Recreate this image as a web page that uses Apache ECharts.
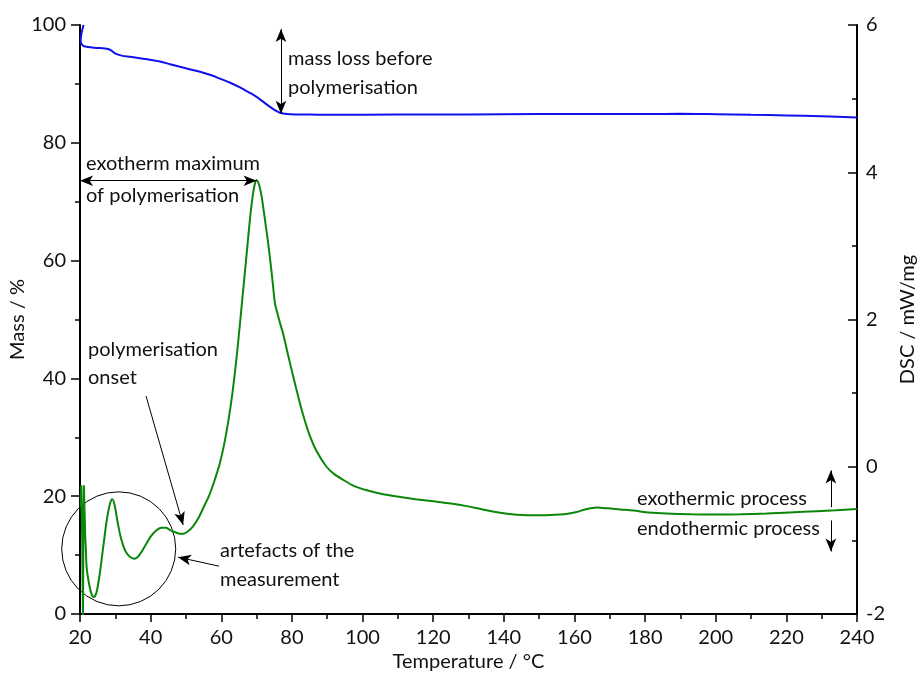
<!DOCTYPE html>
<html>
<head>
<meta charset="utf-8">
<script src="https://cdn.jsdelivr.net/npm/echarts@6/dist/echarts.min.js"></script>
<style>
  html, body { margin: 0; padding: 0; background: #fff; }
  #chart { width: 920px; height: 675px; }
</style>
</head>
<body>
<div id="chart"></div>
<script>
// Thermogravimetry (mass) and DSC heat flow against temperature
const xTicks = { min: 20, max: 240, step: 20 };
const massTicks = { min: 0, max: 100, step: 20 };
const dscTicks = { min: -2, max: 6, step: 2 };

// Mass / % (temperature in °C, mass in %)
const massCurve = [
  [21.0, 100.0], [20.7, 99.3], [20.42, 98.6], [20.2, 97.4], [20.25, 97.0],
  [20.7, 96.6], [21.1, 96.4], [24.0, 96.15], [27.1, 96.0], [28.5, 95.8],
  [29.9, 95.2], [31.8, 94.8], [34.2, 94.6], [37.0, 94.35], [39.8, 94.1],
  [42.65, 93.8], [45.5, 93.35], [48.3, 92.9], [51.0, 92.5], [54.0, 92.05],
  [57.0, 91.5], [59.6, 90.9], [62.5, 90.2], [65.3, 89.4], [67.7, 88.6],
  [70.0, 87.8], [72.0, 86.9], [73.8, 86.1], [75.3, 85.5], [76.6, 85.1],
  [78.0, 84.93], [79.5, 84.85], [85, 84.8], [90, 84.77], [100, 84.78],
  [120, 84.8], [140, 84.85], [160, 84.9], [180, 84.9], [190, 84.92],
  [200, 84.85], [210, 84.75], [220, 84.65], [230, 84.5], [240, 84.3]
];

// DSC / mW/mg — sharp instrument ringing right at the start
const dscStart = [
  [20.2, -0.55], [20.35, -0.25], [20.5, -0.27], [20.6, -0.9], [20.85, -2.05],
  [20.95, -0.9], [21.1, -0.25], [21.25, -0.26], [21.45, -0.9], [21.7, -1.17]
];

// DSC / mW/mg — main heating trace
const dscCurve = [
  [21.7, -1.17], [21.9, -1.38], [22.6, -1.6], [23.2, -1.72], [23.9, -1.77],
  [24.7, -1.7], [25.6, -1.45], [26.6, -1.08], [27.6, -0.72], [28.5, -0.5],
  [29.15, -0.44], [29.8, -0.52], [30.6, -0.74], [31.6, -0.97], [32.8, -1.14],
  [34.0, -1.22], [35.4, -1.25], [36.8, -1.2], [38.5, -1.07], [40.0, -0.95],
  [41.5, -0.87], [43.0, -0.83], [44.3, -0.83], [45.5, -0.86], [47.0, -0.89],
  [48.3, -0.91], [49.3, -0.91], [50.5, -0.88], [52.0, -0.81], [53.5, -0.7],
  [55.0, -0.55], [56.5, -0.4], [58.0, -0.2], [59.5, 0.03], [60.8, 0.3],
  [62.0, 0.62], [63.1, 0.98], [64.1, 1.38], [65.0, 1.8], [65.8, 2.2],
  [66.6, 2.6], [67.4, 3.0], [68.2, 3.4], [68.9, 3.68], [69.5, 3.84],
  [70.0, 3.89], [70.7, 3.83], [71.4, 3.68], [72.3, 3.38], [73.3, 3.03],
  [74.3, 2.62], [75.2, 2.22], [75.7, 2.12], [76.6, 1.96], [77.6, 1.79],
  [79.0, 1.5], [80.4, 1.22], [81.8, 0.95], [83.2, 0.7], [85.0, 0.43],
  [87.0, 0.21], [89.8, 0.0], [92.0, -0.1], [94.6, -0.18], [97.5, -0.26],
  [101.2, -0.32], [105.5, -0.37], [110.6, -0.41], [115, -0.44], [120, -0.47],
  [125, -0.5], [129.5, -0.535], [134, -0.58], [138.9, -0.625], [143, -0.65],
  [146.5, -0.658], [151, -0.66], [155.9, -0.65], [158.5, -0.635], [160.6, -0.615],
  [163, -0.58], [166.3, -0.555], [169.5, -0.565], [172.9, -0.58], [176.7, -0.595],
  [181, -0.62], [186.1, -0.635], [193, -0.645], [200.2, -0.648], [207, -0.645],
  [214.4, -0.635], [221, -0.62], [228.6, -0.603], [234, -0.59], [240, -0.575]
];

const FONT = 'Lato';
const FS = 20;
const INK = '#111';
const BLUE = '#1010f0';
const GREEN = '#0a870a';

const arrowLine = { color: '#000', width: 1, type: 'solid' };
const headSize = [8, 13];

function arrow(from, to, twoHeads) {
  return [
    { coord: from, symbol: twoHeads ? 'arrow' : 'none', symbolSize: headSize },
    { coord: to, symbol: 'arrow', symbolSize: headSize }
  ];
}

const chart = echarts.init(document.getElementById('chart'));

const tickLabel = { color: INK, fontFamily: FONT, fontSize: FS };
const axisName = { color: INK, fontFamily: FONT, fontSize: FS };

chart.setOption({
  animation: false,
  backgroundColor: '#fff',
  grid: {
    left: 80, right: 63, top: 25, bottom: 61,
    containLabel: false, outerBoundsMode: 'none'
  },
  xAxis: {
    type: 'value',
    min: xTicks.min, max: xTicks.max, interval: xTicks.step,
    name: 'Temperature / °C', nameLocation: 'middle', nameGap: 38,
    nameMoveOverlap: false,
    nameTextStyle: axisName,
    axisLine: { show: true, lineStyle: { color: '#000', width: 2 } },
    axisTick: { show: true, length: 8, inside: false, lineStyle: { color: '#000', width: 1.5 } },
    minorTick: { show: true, splitNumber: 2, length: 5, lineStyle: { color: '#000', width: 1.5 } },
    axisLabel: Object.assign({ margin: 14 }, tickLabel),
    splitLine: { show: false }
  },
  yAxis: [
    {
      type: 'value', position: 'left',
      min: massTicks.min, max: massTicks.max, interval: massTicks.step,
      name: 'Mass / %', nameLocation: 'middle', nameGap: 52, nameRotate: 90,
      nameMoveOverlap: false,
      nameTextStyle: axisName,
      axisLine: { show: true, onZero: false, lineStyle: { color: '#000', width: 2 } },
      axisTick: { show: true, length: 9, inside: false, lineStyle: { color: '#000', width: 1.5 } },
      minorTick: { show: true, splitNumber: 2, length: 5, lineStyle: { color: '#000', width: 1.5 } },
      axisLabel: Object.assign({ margin: 14 }, tickLabel),
      splitLine: { show: false }
    },
    {
      type: 'value', position: 'right',
      min: dscTicks.min, max: dscTicks.max, interval: dscTicks.step,
      name: 'DSC / mW/mg', nameLocation: 'middle', nameGap: 41, nameRotate: 90,
      nameMoveOverlap: false,
      nameTextStyle: axisName,
      axisLine: { show: true, onZero: false, lineStyle: { color: '#000', width: 2 } },
      axisTick: { show: true, length: 9, inside: true, lineStyle: { color: '#000', width: 1.5 } },
      minorTick: { show: true, splitNumber: 2, length: 5, lineStyle: { color: '#000', width: 1.5 } },
      axisLabel: Object.assign({ margin: 9 }, tickLabel),
      splitLine: { show: false }
    }
  ],
  series: [
    {
      name: 'Mass', type: 'line', xAxisIndex: 0, yAxisIndex: 0,
      data: massCurve, showSymbol: false, smooth: 0.3,
      lineStyle: { color: BLUE, width: 2 }, itemStyle: { color: BLUE },
      markLine: {
        silent: true, animation: false, label: { show: false },
        lineStyle: arrowLine, emphasis: { disabled: true },
        data: [ arrow([76.9, 84.95], [76.9, 99.3], true) ]
      }
    },
    {
      name: 'DSC start', type: 'line', xAxisIndex: 0, yAxisIndex: 1,
      data: dscStart, showSymbol: false, smooth: false,
      lineStyle: { color: GREEN, width: 2 }, itemStyle: { color: GREEN }
    },
    {
      name: 'DSC', type: 'line', xAxisIndex: 0, yAxisIndex: 1,
      data: dscCurve, showSymbol: false, smooth: 0.3,
      lineStyle: { color: GREEN, width: 2 }, itemStyle: { color: GREEN },
      markLine: {
        silent: true, animation: false, label: { show: false },
        lineStyle: arrowLine, emphasis: { disabled: true },
        data: [
          arrow([20.0, 3.885], [70.0, 3.885], true),
          arrow([38.7, 0.96], [49.2, -0.79], false),
          arrow([59.35, -1.35], [47.75, -1.228], false),
          arrow([232.6, -0.55], [232.6, -0.05], false),
          arrow([232.6, -0.73], [232.6, -1.15], false)
        ]
      }
    }
  ]
});

// Annotation texts and the circle around the start-up artefacts
const note = (x, y, text, align) => ({
  type: 'text', x: x, y: y, silent: true,
  style: {
    text: text, fill: INK, font: FS + 'px ' + FONT,
    textAlign: align || 'left', textVerticalAlign: 'middle'
  }
});

const c = chart.convertToPixel({ xAxisIndex: 0, yAxisIndex: 1 }, [30.96, -1.115]);

chart.setOption({
  graphic: [
    note(288, 59, 'mass loss before'),
    note(288, 88, 'polymerisation'),
    note(86, 164, 'exotherm maximum'),
    note(86, 196, 'of polymerisation'),
    note(88, 350, 'polymerisation'),
    note(88, 378, 'onset'),
    note(220, 551, 'artefacts of the'),
    note(220, 580, 'measurement'),
    note(637, 499, 'exothermic process'),
    note(637, 529, 'endothermic process'),
    {
      type: 'circle', silent: true,
      shape: { cx: c[0], cy: c[1], r: 57 },
      style: { fill: 'none', stroke: '#000', lineWidth: 1 }
    }
  ]
});
</script>
</body>
</html>
